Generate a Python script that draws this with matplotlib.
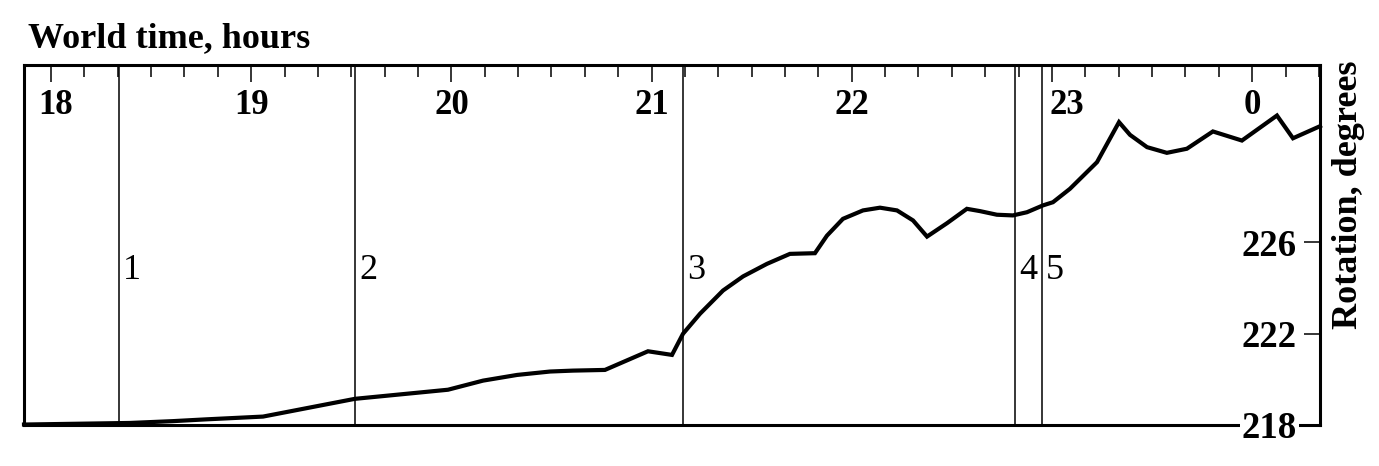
import numpy as np
import matplotlib
matplotlib.use("Agg")
import matplotlib.pyplot as plt
from matplotlib.ticker import FixedLocator, MultipleLocator
from matplotlib.transforms import ScaledTranslation

plt.rcParams['font.family'] = ['Liberation Serif', 'DejaVu Serif']

# --- DATA ---
# world time in hours (values past 24 are after midnight)
time_h = [17.865, 18.395, 18.609, 18.779, 19.059, 19.518, 19.983, 20.158, 20.328,
          20.493, 20.607, 20.767, 20.982, 21.102, 21.157, 21.242, 21.357, 21.457,
          21.576, 21.691, 21.816, 21.876, 21.956, 22.056, 22.141, 22.226, 22.306,
          22.376, 22.476, 22.575, 22.640, 22.725, 22.805, 22.875, 22.955, 23.005,
          23.090, 23.225, 23.335, 23.390, 23.475, 23.574, 23.674, 23.804, 23.949,
          24.124, 24.204, 24.339]
rotation_deg = [218.00, 218.07, 218.15, 218.23, 218.35, 219.13, 219.53, 219.93, 220.18,
                220.33, 220.37, 220.40, 221.22, 221.06, 221.99, 222.87, 223.89, 224.51,
                225.06, 225.50, 225.53, 226.30, 227.04, 227.41, 227.53, 227.41, 226.97,
                226.26, 226.85, 227.48, 227.38, 227.22, 227.19, 227.33, 227.63, 227.77,
                228.36, 229.53, 231.29, 230.73, 230.19, 229.94, 230.12, 230.88, 230.48,
                231.58, 230.58, 231.11]

# marked moments
event_times = [18.340, 19.518, 21.157, 22.815, 22.950]
event_labels = ['1', '2', '3', '4', '5']

hour_ticks = [18, 19, 20, 21, 22, 23, 24]
hour_labels = ['18', '19', '20', '21', '22', '23', '0']
rot_ticks = [218, 222, 226]

# --- FIGURE ---
fig = plt.figure(figsize=(13.79, 4.66), dpi=100)
ax = fig.add_axes([24 / 1379, 41 / 466, 1296 / 1379, 360 / 466])
ax.set_axisbelow(False)

ax.plot(time_h, rotation_deg, color='black', lw=3.0, solid_joinstyle='miter',
        clip_on=False, zorder=3)

for t, lab in zip(event_times, event_labels):
    ax.axvline(t, color='black', lw=1.1, zorder=2)
    ax.annotate(lab, xy=(t, 0.43), xycoords=('data', 'axes fraction'),
                xytext=(3, 0), textcoords='offset points',
                ha='left', va='center', fontsize=26)

ax.set_xlim(17.865, 24.339)
ax.set_ylim(217.98, 233.8)

for s in ax.spines.values():
    s.set_linewidth(2.2)

# top time axis, ticks pointing in
ax.xaxis.set_major_locator(FixedLocator(hour_ticks))
ax.xaxis.set_minor_locator(MultipleLocator(1 / 6))
ax.set_xticklabels(hour_labels)
ax.tick_params(axis='x', which='both', bottom=False, labelbottom=False,
               top=True, labeltop=True, direction='in', width=1.1)
ax.tick_params(axis='x', which='major', length=12.5, pad=-17, labelsize=25)
ax.tick_params(axis='x', which='minor', length=8.5)

# right rotation axis, labels inside
ax.yaxis.set_major_locator(FixedLocator(rot_ticks))
ax.tick_params(axis='y', which='both', left=False, labelleft=False,
               right=True, labelright=True, direction='in',
               length=11.5, width=1.1, pad=-16.5, labelsize=26.5)

fig.canvas.draw()
for tk in ax.xaxis.get_major_ticks():
    tk.label2.set_fontweight('bold')
    tk.label2.set_verticalalignment('top')
    txt = tk.label2.get_text()
    if txt == '18':
        tk.label2.set_transform(tk.label2.get_transform() + ScaledTranslation(0.05, 0, fig.dpi_scale_trans))
    if txt == '23':
        tk.label2.set_transform(tk.label2.get_transform() + ScaledTranslation(0.15, 0, fig.dpi_scale_trans))
for tk in ax.yaxis.get_major_ticks():
    tk.label2.set_fontweight('bold')
    tk.label2.set_horizontalalignment('right')
    tk.label2.set_bbox(dict(facecolor='white', edgecolor='none', pad=1))

ax.yaxis.set_label_position('right')
ax.set_ylabel('Rotation, degrees', fontsize=26, fontweight='bold')
ax.yaxis.set_label_coords(1.009, 0.639)

fig.text(28 / 1379, 1 - 47 / 466, 'World time, hours', fontsize=26,
         fontweight='bold', va='baseline', ha='left')

fig.savefig('out.png', dpi=100)
